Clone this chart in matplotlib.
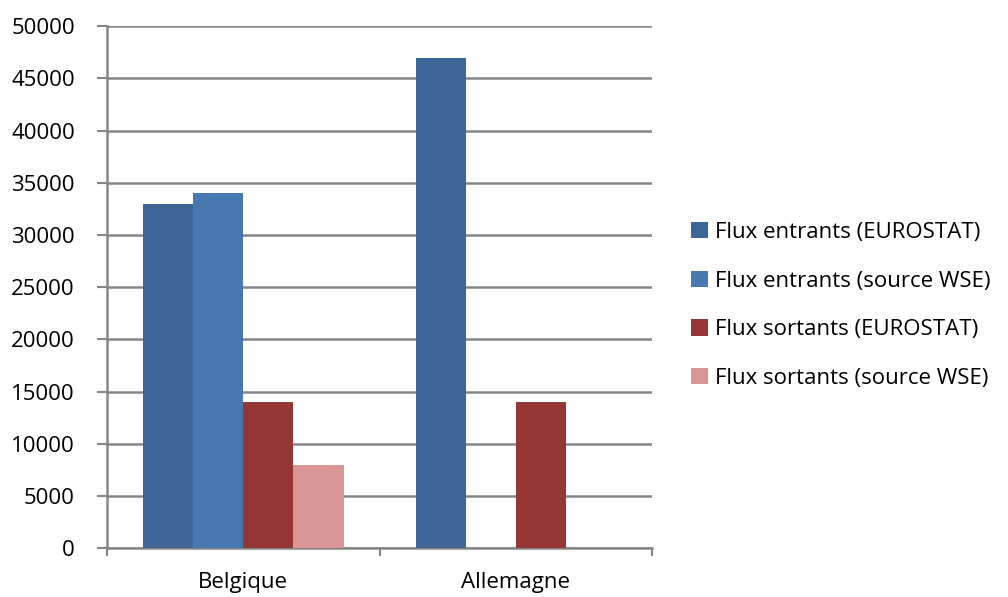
import matplotlib
matplotlib.use("Agg")
import matplotlib.pyplot as plt
import numpy as np

CATEGORIES = ["Belgique", "Allemagne"]
SERIES = [
    "Flux entrants (EUROSTAT)",
    "Flux entrants (source WSE)",
    "Flux sortants (EUROSTAT)",
    "Flux sortants (source WSE)",
]
VALUES = [
    [33000, 47000],
    [34000, np.nan],
    [14000, 14000],
    [8000, np.nan],
]
COLORS = ["#3D6697", "#4878B0", "#953735", "#D99694"]
Y_TICKS = list(range(0, 50001, 5000))

GRID = "#868686"

plt.rcParams["font.family"] = ["Open Sans", "DejaVu Sans"]

fig = plt.figure(figsize=(10.08, 5.97), dpi=100)
ax = fig.add_axes([0.106, 0.082, 0.541, 0.874])

x = np.arange(len(CATEGORIES))
width = 0.184
for i, (name, vals, col) in enumerate(zip(SERIES, VALUES, COLORS)):
    offset = (i - 1.5) * width
    ax.bar(x + offset, vals, width, color=col, label=name, zorder=3, linewidth=0)

ax.set_xlim(-0.5, len(CATEGORIES) - 0.5)
ax.set_ylim(0, 50000)
ax.set_yticks(Y_TICKS)
ax.set_yticklabels([str(v) for v in Y_TICKS], fontsize=16)
ax.yaxis.grid(True, color=GRID, linewidth=1.8, zorder=0)

ax.set_xticks(np.arange(-0.5, len(CATEGORIES)), labels=[])
ax.set_xticks(x, labels=CATEGORIES, minor=True, fontsize=16)
ax.tick_params(axis="x", which="major", direction="out", length=6, width=1.5, color=GRID)
ax.tick_params(axis="x", which="minor", length=0, pad=17)
ax.tick_params(axis="y", direction="out", length=7, width=1.5, color=GRID, pad=16)

for side in ("top", "right"):
    ax.spines[side].set_visible(False)
for side in ("left", "bottom"):
    ax.spines[side].set_color(GRID)
    ax.spines[side].set_linewidth(1.8)

leg = ax.legend(
    loc="center left", bbox_to_anchor=(1.035, 0.465), frameon=False,
    fontsize=16, handlelength=0.75, handleheight=0.75, handletextpad=0.3,
    labelspacing=1.25,
)

fig.savefig("out.png", dpi=100)
